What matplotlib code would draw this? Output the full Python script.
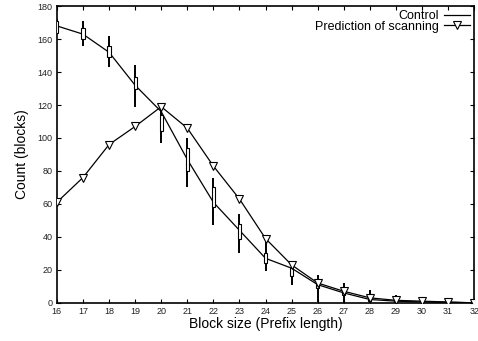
import matplotlib
matplotlib.use('Agg')
import matplotlib.pyplot as plt

plt.rcParams['font.family'] = ['Liberation Sans', 'DejaVu Sans']

prefix = list(range(16, 33))
control = [168, 163, 152, 132, 116, 87, 61, 44, 27, 21, 11, 6, 2, 1, 0.5, 0.3, 0]
box_lo = [164, 160, 149, 130, 104, 80, 58, 39, 24, 16, 9, 5, 1, 0.5, 0.2, 0.1, 0]
box_hi = [171, 167, 156, 137, 114, 94, 70, 48, 30, 21, 14, 8, 3, 1.5, 0.8, 0.5, 0]
whisk_lo = [164, 156, 143, 119, 97, 70, 47, 30, 19, 11, 0.5, 0, 0, 0, 0, 0, 0]
whisk_hi = [172, 171, 162, 144, 121, 100, 76, 54, 38, 23, 17, 12, 8, 5, 3, 2, 0]
prediction = [61, 76, 96, 107, 119, 106, 83, 63, 39, 23, 12, 7, 3, 1.5, 1, 0.5, 0]

fig = plt.figure(figsize=(4.78, 3.41), dpi=100)
ax = fig.add_axes([0.119, 0.112, 0.873, 0.870])

ax.plot(prefix, control, color='black', lw=0.9, label='Control', zorder=2)
ax.vlines(prefix, whisk_lo, whisk_hi, color='black', lw=1.4, zorder=3)
ax.bar(prefix, [h - l for l, h in zip(box_lo, box_hi)], bottom=box_lo, width=0.12,
       facecolor='white', edgecolor='black', lw=0.8, zorder=4)
ax.plot(prefix, prediction, color='black', lw=0.9, marker='v', markersize=6,
        markerfacecolor='white', markeredgecolor='black', markeredgewidth=0.8,
        label='Prediction of scanning', zorder=5)

ax.set_xlim(16, 32)
ax.set_ylim(0, 180)
ax.set_xticks(prefix)
ax.set_yticks(range(0, 181, 20))
ax.tick_params(direction='in', top=True, right=True, labelsize=6.5, length=3,
               width=0.8, pad=3, labelcolor='#222222')
for s in ax.spines.values():
    s.set_linewidth(1.2)

ax.set_xlabel('Block size (Prefix length)', fontsize=10, labelpad=1)
ax.set_ylabel('Count (blocks)', fontsize=10, labelpad=6)

leg = ax.legend(loc='upper right', frameon=False, markerfirst=False, fontsize=9,
                handlelength=2.1, borderpad=0.0, labelspacing=-0.1,
                handletextpad=0.4, borderaxespad=0.3)
for t in leg.get_texts():
    t.set_ha('right')

fig.savefig('out.png', dpi=100)
